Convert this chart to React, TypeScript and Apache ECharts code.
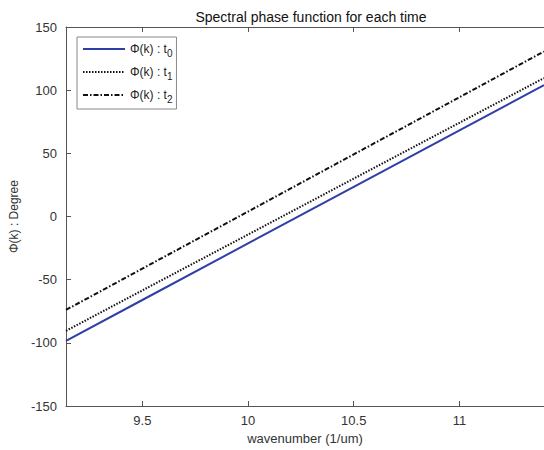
import React, { useEffect, useRef } from "react";
import * as echarts from "echarts";

const xValues = [9.139, 9.5, 10, 10.5, 11, 11.4];
const phaseT0 = [-98.4, -66.1, -21.3, 23.4, 68.2, 104.0];
const phaseT1 = [-90.5, -58.5, -14.3, 30.0, 74.2, 109.6];
const phaseT2 = [-73.9, -41.3, 3.9, 49.2, 94.4, 130.6];
const xTicks = [9.5, 10, 10.5, 11];
const seriesNames = ["t0", "t1", "t2"];
const subscripts = ["0", "1", "2"];

const FONT = "Liberation Sans, Arial, sans-serif";

export default function App() {
  const ref = useRef<HTMLDivElement>(null);
  useEffect(() => {
    if (!ref.current) return;
    const chart = echarts.init(ref.current, undefined, { renderer: "svg" });
    const mk = (ys: number[]) => xValues.map((x, i) => [x, ys[i]]);
    const axisColor = "#555";
    chart.setOption({
      animation: false,
      backgroundColor: "#fff",
      textStyle: { fontFamily: FONT },
      title: {
        text: "Spectral phase function for each time",
        left: 306,
        textAlign: "center",
        top: 5,
        textStyle: { fontFamily: FONT, fontSize: 14, fontWeight: "normal", color: "#111" },
      },
      grid: { left: 66, top: 27, width: 480, height: 380 },
      legend: {
        orient: "vertical",
        left: 77,
        top: 37,
        padding: [3, 4, 5, 5],
        itemGap: 5,
        itemWidth: 42,
        itemHeight: 14,
        borderColor: "#888",
        borderWidth: 1,
        backgroundColor: "#fff",
        itemStyle: { opacity: 0 },
        data: seriesNames,
        formatter: (name: string) => {
          const i = seriesNames.indexOf(name);
          return "{a|\u03A6(k) : t}{s|" + subscripts[i] + "}";
        },
        textStyle: {
          fontFamily: FONT,
          color: "#222",
          rich: {
            a: { fontSize: 12, fontFamily: FONT, color: "#222", lineHeight: 14 },
            s: { fontSize: 10, fontFamily: FONT, color: "#222", padding: [8, 0, 0, 0], lineHeight: 9 },
          },
        },
      },
      xAxis: [
        {
          type: "value",
          min: 9.139,
          max: 11.4,
          position: "bottom",
          name: "wavenumber (1/um)",
          nameLocation: "middle",
          nameGap: 26,
          nameTextStyle: { fontFamily: FONT, fontSize: 13, color: "#333" },
          axisLine: { show: true, onZero: false, lineStyle: { color: axisColor, width: 1 } },
          axisTick: { show: true, inside: true, length: 5, customValues: xTicks, lineStyle: { color: axisColor } },
          axisLabel: { show: true, customValues: xTicks, fontFamily: FONT, fontSize: 13, color: "#333", margin: 8 },
          splitLine: { show: false },
        },
        {
          type: "value",
          min: 9.139,
          max: 11.4,
          position: "top",
          axisLine: { show: true, onZero: false, lineStyle: { color: axisColor, width: 1 } },
          axisTick: { show: true, inside: true, length: 5, customValues: xTicks, lineStyle: { color: axisColor } },
          axisLabel: { show: false },
          splitLine: { show: false },
        },
      ],
      yAxis: {
        type: "value",
        min: -150,
        max: 150,
        interval: 50,
        name: "\u03A6(k) : Degree",
        nameLocation: "middle",
        nameGap: 44,
        nameTextStyle: { fontFamily: FONT, fontSize: 12, color: "#333" },
        axisLine: { show: true, onZero: false, lineStyle: { color: axisColor, width: 1 } },
        axisTick: { show: true, inside: true, length: 5, lineStyle: { color: axisColor } },
        axisLabel: { fontFamily: FONT, fontSize: 13, color: "#333", margin: 9 },
        splitLine: { show: false },
      },
      series: [
        {
          name: "t0",
          type: "line",
          data: mk(phaseT0),
          symbol: "none",
          lineStyle: { color: "#2e3fa6", width: 2, type: "solid" },
          itemStyle: { color: "#2e3fa6" },
        },
        {
          name: "t1",
          type: "line",
          data: mk(phaseT1),
          symbol: "none",
          lineStyle: { color: "#111", width: 2, type: [1.5, 1.5] },
          itemStyle: { color: "#111" },
        },
        {
          name: "t2",
          type: "line",
          data: mk(phaseT2),
          symbol: "none",
          lineStyle: { color: "#111", width: 2, type: [5, 2, 1.5, 2] },
          itemStyle: { color: "#111" },
        },
      ],
    });
    return () => chart.dispose();
  }, []);
  return (
    <div
      ref={ref}
      style={{ position: "fixed", left: 0, top: 0, width: 544, height: 450 }}
    />
  );
}
